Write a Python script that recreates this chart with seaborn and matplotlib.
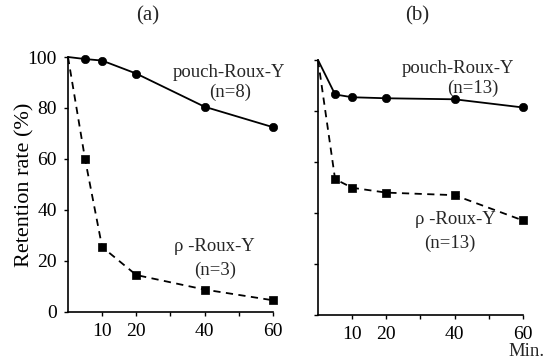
import matplotlib
matplotlib.use("Agg")
import matplotlib.pyplot as plt
import seaborn as sns
import pandas as pd

sns.set_theme(style="white")
plt.rcParams['font.family'] = ['Liberation Serif', 'DejaVu Serif']

minutes = [0, 5, 10, 20, 40, 60]
a_pouch = [100, 99.2, 98.6, 93.5, 80.5, 72.5]
a_rho = [100, 60, 25.5, 14.5, 8.8, 4.6]
b_pouch = [100, 86.5, 85.4, 85.0, 84.6, 81.4]
b_rho = [100, 53.3, 49.9, 48.0, 47.0, 37.1]

xticks = [10, 20, 30, 40, 50, 60]
xticklabels = ["10", "20", "", "40", "", "60"]
yticks = [0, 20, 40, 60, 80, 100]

fig = plt.figure(figsize=(5.55, 3.64), dpi=100)
ax_a = fig.add_axes([0.1225, 0.1429, 0.369, 0.7005])
ax_b = fig.add_axes([0.573, 0.1346, 0.369, 0.7005])

def draw(ax, pouch, rho):
    df = pd.DataFrame({"min": minutes, "pouch": pouch, "rho": rho})
    sns.lineplot(data=df, x="min", y="pouch", ax=ax, color="black", lw=1.3,
                 linestyle="-")
    sns.lineplot(data=df, x="min", y="rho", ax=ax, color="black", lw=1.3,
                 linestyle=(0, (4, 3)))
    d2 = df[df["min"] > 0]
    sns.scatterplot(data=d2, x="min", y="pouch", ax=ax, color="black",
                    marker="o", s=36, edgecolor="black", linewidth=0.5, zorder=5,
                    clip_on=False)
    sns.scatterplot(data=d2, x="min", y="rho", ax=ax, color="black",
                    marker="s", s=32, edgecolor="black", linewidth=0.5, zorder=5,
                    clip_on=False)
    ax.set_xlim(0, 60)
    ax.set_ylim(0, 100)
    ax.set_xticks(xticks)
    ax.set_xticklabels(xticklabels)
    ax.set_yticks(yticks)
    for s in ["top", "right"]:
        ax.spines[s].set_visible(False)
    for s in ["left", "bottom"]:
        ax.spines[s].set_color("black")
        ax.spines[s].set_linewidth(1.2)
    ax.tick_params(axis="both", direction="out", length=3, width=1,
                   color="black", labelsize=14, labelcolor="black", pad=5,
                   left=True, bottom=True)
    ax.set_xlabel("")
    ax.set_ylabel("")
    for line in ax.lines:
        line.set_clip_on(False)

draw(ax_a, a_pouch, a_rho)
draw(ax_b, b_pouch, b_rho)
ax_b.set_yticklabels([])

ax_a.set_ylabel("Retention rate (%)", fontsize=16, color="black", labelpad=-5)

fs = 13.5
ax_a.text(47.1, 94, "pouch-Roux-Y", ha="center", va="center", fontsize=fs)
ax_a.text(47.4, 86, "(n=8)", ha="center", va="center", fontsize=fs)
ax_a.text(43, 25.5, "ρ -Roux-Y", ha="center", va="center", fontsize=fs)
ax_a.text(43, 16.3, "(n=3)", ha="center", va="center", fontsize=fs)

ax_b.text(41, 96.5, "pouch-Roux-Y", ha="center", va="center", fontsize=fs)
ax_b.text(45.4, 88.8, "(n=13)", ha="center", va="center", fontsize=fs)
ax_b.text(40.1, 37.3, "ρ -Roux-Y", ha="center", va="center", fontsize=fs)
ax_b.text(38.6, 28.2, "(n=13)", ha="center", va="center", fontsize=fs)

fig.text(148 / 555, 1 - 16 / 364, "(a)", ha="center", va="center", fontsize=15)
fig.text(417 / 555, 1 - 16 / 364, "(b)", ha="center", va="center", fontsize=15)
fig.text(527 / 555, 1 - 352 / 364, "Min.", ha="center", va="center", fontsize=13.5)

fig.savefig("out.png", dpi=100, facecolor="white")
